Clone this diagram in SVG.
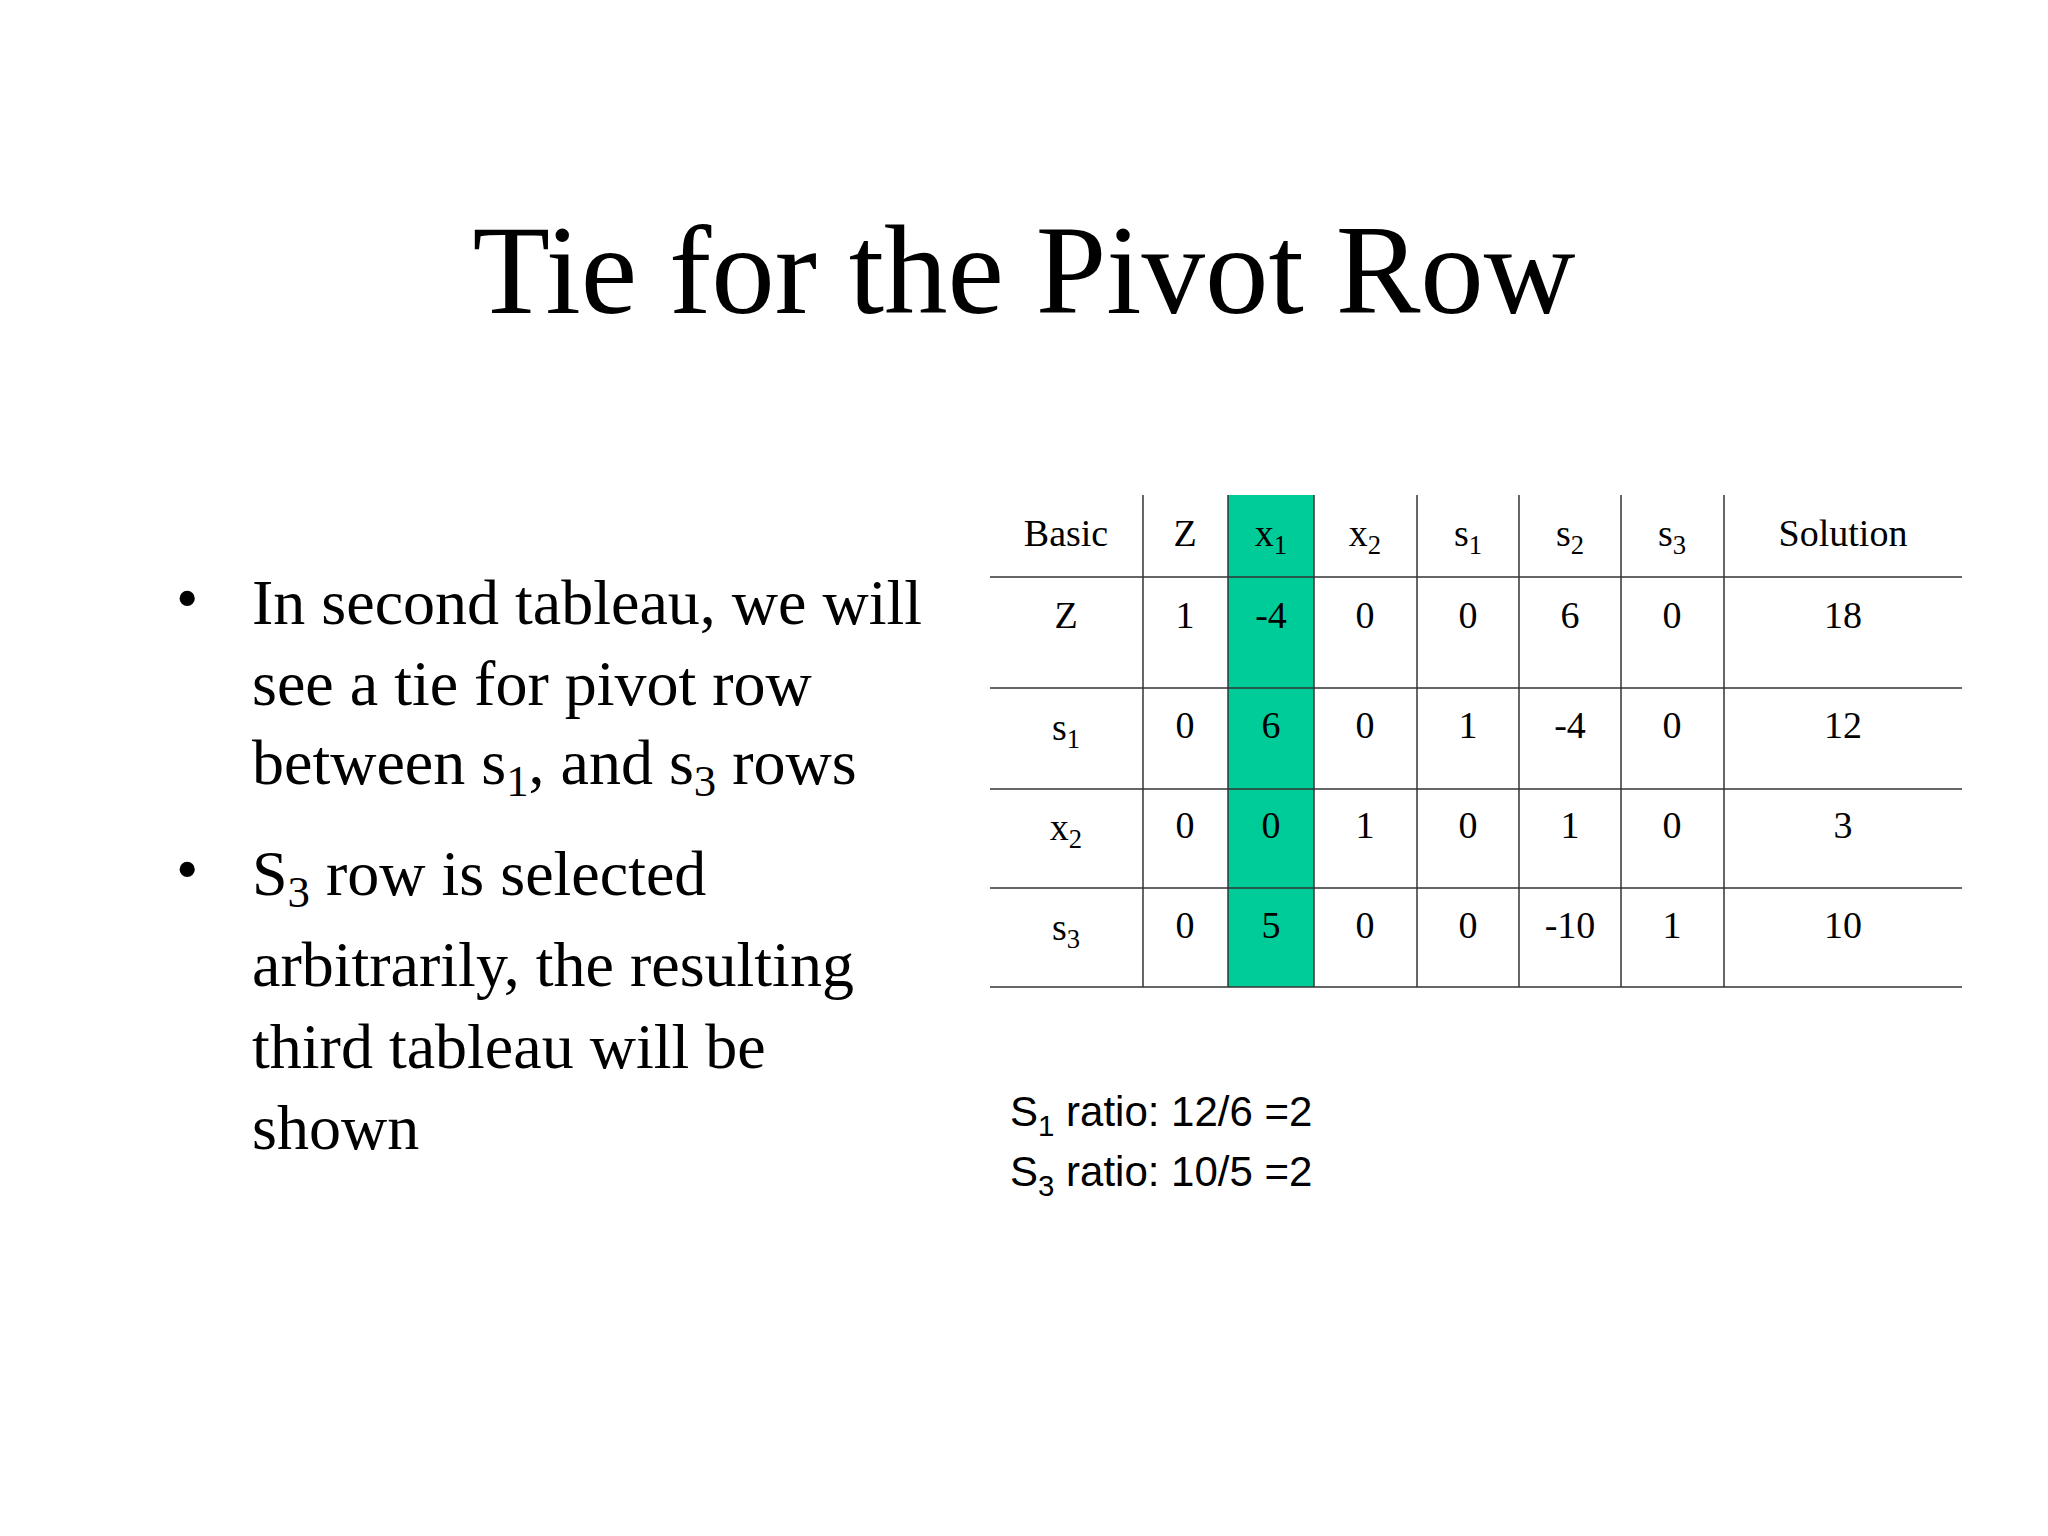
<svg xmlns="http://www.w3.org/2000/svg" width="2048" height="1536" viewBox="0 0 2048 1536">
<style>
.t{font-family:"Liberation Serif",serif;fill:#000}
.b{font-size:64px}
.c{font-size:38px;text-anchor:middle}
.a{font-family:"Liberation Sans",sans-serif;font-size:42px}
.sub{font-size:70%}
line{stroke:#333;stroke-width:1.5}
</style>
<rect width="2048" height="1536" fill="#fff"/>
<g id="title"><text class="t" x="1024" y="313" font-size="127" text-anchor="middle">Tie for the Pivot Row</text></g>
<g id="bullets" class="t b">
<text x="176" y="620">•</text>
<text x="252" y="624">In second tableau, we will</text>
<text x="252" y="705">see a tie for pivot row</text>
<text x="252" y="784">between s<tspan class="sub" dy="12">1</tspan><tspan dy="-12">, and s</tspan><tspan class="sub" dy="12">3</tspan><tspan dy="-12"> rows</tspan></text>
<text x="176" y="891">•</text>
<text x="252" y="895">S<tspan class="sub" dy="12">3</tspan><tspan dy="-12"> row is selected</tspan></text>
<text x="252" y="986">arbitrarily, the resulting</text>
<text x="252" y="1068">third tableau will be</text>
<text x="252" y="1149">shown</text>
</g>
<g id="table">
<rect x="1228" y="495" width="86" height="492" fill="#00CC99"/>
<g id="grid">
<line x1="990" y1="577" x2="1962" y2="577"/>
<line x1="990" y1="688" x2="1962" y2="688"/>
<line x1="990" y1="789" x2="1962" y2="789"/>
<line x1="990" y1="888" x2="1962" y2="888"/>
<line x1="990" y1="987" x2="1962" y2="987"/>
<line x1="1143" y1="495" x2="1143" y2="987"/>
<line x1="1228" y1="495" x2="1228" y2="987"/>
<line x1="1314" y1="495" x2="1314" y2="987"/>
<line x1="1417" y1="495" x2="1417" y2="987"/>
<line x1="1519" y1="495" x2="1519" y2="987"/>
<line x1="1621" y1="495" x2="1621" y2="987"/>
<line x1="1724" y1="495" x2="1724" y2="987"/>
</g>
<g class="t c">
<text x="1066" y="546">Basic</text>
<text x="1185" y="546">Z</text>
<text x="1271" y="546">x<tspan class="sub" dy="8">1</tspan></text>
<text x="1365" y="546">x<tspan class="sub" dy="8">2</tspan></text>
<text x="1468" y="546">s<tspan class="sub" dy="8">1</tspan></text>
<text x="1570" y="546">s<tspan class="sub" dy="8">2</tspan></text>
<text x="1672" y="546">s<tspan class="sub" dy="8">3</tspan></text>
<text x="1843" y="546">Solution</text>

<text x="1066" y="628">Z</text>
<text x="1185" y="628">1</text><text x="1271" y="628">-4</text><text x="1365" y="628">0</text><text x="1468" y="628">0</text><text x="1570" y="628">6</text><text x="1672" y="628">0</text><text x="1843" y="628">18</text>

<text x="1066" y="740">s<tspan class="sub" dy="8">1</tspan></text>
<text x="1185" y="738">0</text><text x="1271" y="738">6</text><text x="1365" y="738">0</text><text x="1468" y="738">1</text><text x="1570" y="738">-4</text><text x="1672" y="738">0</text><text x="1843" y="738">12</text>

<text x="1066" y="840">x<tspan class="sub" dy="8">2</tspan></text>
<text x="1185" y="838">0</text><text x="1271" y="838">0</text><text x="1365" y="838">1</text><text x="1468" y="838">0</text><text x="1570" y="838">1</text><text x="1672" y="838">0</text><text x="1843" y="838">3</text>

<text x="1066" y="940">s<tspan class="sub" dy="8">3</tspan></text>
<text x="1185" y="938">0</text><text x="1271" y="938">5</text><text x="1365" y="938">0</text><text x="1468" y="938">0</text><text x="1570" y="938">-10</text><text x="1672" y="938">1</text><text x="1843" y="938">10</text>
</g>
</g>
<g id="ratios" class="a">
<text x="1010" y="1126">S<tspan class="sub" dy="10">1</tspan><tspan dy="-10"> ratio: 12/6 =2</tspan></text>
<text x="1010" y="1186">S<tspan class="sub" dy="10">3</tspan><tspan dy="-10"> ratio: 10/5 =2</tspan></text>
</g>
</svg>
